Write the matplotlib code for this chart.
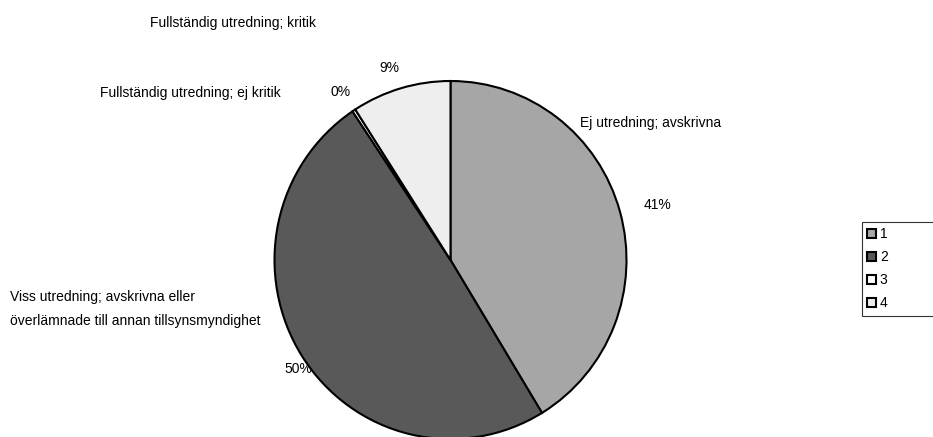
import matplotlib.pyplot as plt
from matplotlib.patches import Patch

plt.rcParams['font.family'] = ['Liberation Sans', 'DejaVu Sans']

# slices, clockwise from 12 o'clock
categories = ['Ej utredning; avskrivna',
              'Viss utredning; avskrivna eller\növerlämnade till annan tillsynsmyndighet',
              'Fullständig utredning; ej kritik',
              'Fullständig utredning; kritik']
values = [41.3, 49.3, 0.3, 9.1]
pct_labels = ['41%', '50%', '0%', '9%']
legend_labels = ['1', '2', '3', '4']
colors = ['#a6a6a6', '#595959', '#ffffff', '#eeeeee']

W, H = 933, 437
fig = plt.figure(figsize=(W / 100, H / 100), dpi=100)

# text layer in pixel coordinates (y measured from top)
ax = fig.add_axes([0, 0, 1, 1])
ax.set_xlim(0, W)
ax.set_ylim(H, 0)
ax.axis('off')

# pie is slightly taller than wide
cx, cy, rx, ry = 450.5, 260, 176, 179
pax = fig.add_axes([(cx - rx) / W, (H - cy - ry) / H, 2 * rx / W, 2 * ry / H])
pax.pie(values, colors=colors, startangle=90, counterclock=False, radius=1,
        wedgeprops=dict(edgecolor='black', linewidth=1.5, clip_on=False))
pax.set_aspect('auto')
pax.set_xlim(-1, 1)
pax.set_ylim(-1, 1)
pax.axis('off')

pct_pos = [(658, 205), (298, 369), (341, 92), (389, 68)]
for (x, y), t in zip(pct_pos, pct_labels):
    ax.text(x, y, t, fontsize=10, ha='center', va='center')

cat_pos = [(580, 123), (10, 309), (100, 93), (150, 23)]
for (x, y), t in zip(cat_pos, categories):
    ax.text(x, y, t, fontsize=10, ha='left', va='center', linespacing=1.85)

handles = [Patch(facecolor=c, edgecolor='black', linewidth=1.5) for c in colors]
leg = fig.legend(handles, legend_labels, loc='upper left', mode='expand',
                 bbox_to_anchor=(862 / W, 1 - 315 / H, 100 / W, 93 / H), fontsize=10,
                 frameon=True, fancybox=False, handlelength=0.6, handleheight=0.6,
                 handletextpad=0.3, labelspacing=0.65, borderpad=0.38, borderaxespad=0)
leg.get_frame().set_edgecolor('black')
leg.get_frame().set_linewidth(0.8)

fig.savefig('out.png', dpi=100)
